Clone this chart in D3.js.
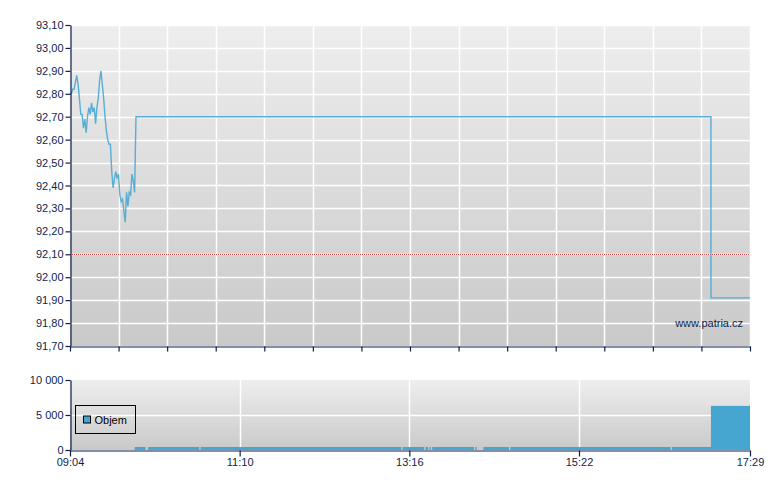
<!DOCTYPE html>
<html>
<head>
<meta charset="UTF-8" />
<title>Graf - patria.cz</title>
<script type="text/javascript" src="https://cdn.jsdelivr.net/npm/d3@7"></script>
<style>
	body { margin: 0; background: #fff; }
	svg text { font-family: "Liberation Sans", Arial, sans-serif; font-size: 11px; }
</style>
</head>
<body>
<div id="chart"></div>

<script type="text/javascript">
	// price ticks, one value per minute from 09:04, then the flat part
	var priceTimes = ["09:04","09:05","09:06","09:07","09:08","09:09","09:10","09:11","09:12","09:13",
		"09:14","09:15","09:16","09:17","09:18","09:19","09:20","09:21","09:22","09:23",
		"09:24","09:25","09:26","09:27","09:28","09:29","09:30","09:31","09:32","09:33",
		"09:34","09:35","09:36","09:37","09:38","09:39","09:40","09:41","09:42","09:43",
		"09:44","09:45","09:46","09:47","09:48","09:49","09:50","09:51","09:52","09:53",
		"17:00","17:00","17:29"];
	var priceValues = [92.80,92.80,92.82,92.82,92.85,92.88,92.84,92.78,92.71,92.71,
		92.65,92.69,92.63,92.70,92.74,92.71,92.76,92.72,92.74,92.67,
		92.74,92.78,92.86,92.90,92.84,92.78,92.70,92.64,92.60,92.58,
		92.58,92.46,92.39,92.43,92.46,92.43,92.45,92.36,92.33,92.34,
		92.29,92.24,92.37,92.31,92.37,92.36,92.45,92.42,92.37,92.70,
		92.70,91.91,91.91];
	var prevClose = 92.10;

	// volume blocks: start, end, volume
	var volStart = ["09:52","10:02","10:41","13:11","13:28","13:31","13:33","14:05","14:11","14:31","16:31","17:00"];
	var volEnd   = ["10:00","10:40","13:10","13:27","13:30","13:32","14:04","14:06","14:30","16:30","17:00","17:29"];
	var volValues = [430,430,430,430,430,430,430,430,430,430,430,6300];

	var priceTicks = [91.7,91.8,91.9,92.0,92.1,92.2,92.3,92.4,92.5,92.6,92.7,92.8,92.9,93.0,93.1];
	var volTicks = [0,5000,10000];
	var timeLabels = ["09:04","11:10","13:16","15:22","17:29"];

	var W = 780, H = 490;
	var x0 = 70, x1 = 750;
	var navy = "#0c1f4e";

	function mins(t) { var p = t.split(":"); return (+p[0]) * 60 + (+p[1]); }

	var svg = d3.select("#chart").append("svg").attr("width", W).attr("height", H);

	var defs = svg.append("defs");
	var grad = defs.append("linearGradient").attr("id", "bg").attr("x1", 0).attr("y1", 0).attr("x2", 0).attr("y2", 1);
	grad.append("stop").attr("offset", "0%").attr("stop-color", "#eeeeee");
	grad.append("stop").attr("offset", "100%").attr("stop-color", "#c9c9c9");

	var x = d3.scaleLinear().domain([mins("09:04"), mins("17:29")]).range([x0, x1]);
	var y = d3.scaleLinear().domain([91.7, 93.1]).range([346, 25]);
	var yv = d3.scaleLinear().domain([0, 10000]).range([450, 380]);

	var fmtPrice = function(d) { return d3.format(".2f")(d).replace(".", ","); };
	var fmtVol = function(d) { return d3.format(",")(d).replace(/,/g, " "); };

	// ---- upper chart ----
	var gTop = svg.append("g");
	gTop.append("rect").attr("x", x0).attr("y", y(93.1)).attr("width", x1 - x0).attr("height", y(91.7) - y(93.1))
		.attr("fill", "url(#bg)");

	var xTicksTop = d3.range(15).map(function(i) { return x.domain()[0] + i * (x.domain()[1] - x.domain()[0]) / 14; });

	gTop.selectAll("line.hg").data(priceTicks.slice(1)).enter().append("line")
		.attr("x1", x0).attr("x2", x1).attr("y1", function(d) { return Math.round(y(d)) + 0.5; })
		.attr("y2", function(d) { return Math.round(y(d)) + 0.5; })
		.attr("stroke", "#fff").attr("stroke-width", 1.5);
	gTop.selectAll("line.vg").data(xTicksTop.slice(1)).enter().append("line")
		.attr("y1", y(93.1)).attr("y2", y(91.7))
		.attr("x1", function(d) { return Math.round(x(d)) + 0.5; }).attr("x2", function(d) { return Math.round(x(d)) + 0.5; })
		.attr("stroke", "#fff").attr("stroke-width", 1.5);

	// previous close
	gTop.append("line").attr("x1", x0).attr("x2", x1)
		.attr("y1", Math.round(y(prevClose)) + 0.5).attr("y2", Math.round(y(prevClose)) + 0.5)
		.attr("stroke", "#d84a4a").attr("stroke-dasharray", "1,1").attr("stroke-width", 1);

	var priceData = priceTimes.map(function(t, i) { return { t: mins(t), v: priceValues[i] }; });
	gTop.append("path").datum(priceData)
		.attr("fill", "none").attr("stroke", "#4aa7d1").attr("stroke-width", 1.4).attr("stroke-opacity", 0.9)
		.attr("d", d3.line().x(function(d) { return x(d.t); }).y(function(d) { return y(d.v); }));

	gTop.append("text").attr("x", 743).attr("y", 327).attr("text-anchor", "end").attr("fill", navy)
		.text("www.patria.cz");

	var yAxis = d3.axisLeft(y).tickValues(priceTicks).tickFormat(fmtPrice).tickSize(5).tickSizeOuter(0);
	var gy = svg.append("g").attr("transform", "translate(" + (x0 + 0.5) + ",0)").call(yAxis);
	var xAxisTop = d3.axisBottom(x).tickValues(xTicksTop).tickFormat("").tickSize(5).tickSizeOuter(0);
	var gx = svg.append("g").attr("transform", "translate(0," + (346.5) + ")").call(xAxisTop);

	// ---- volume chart ----
	var gBot = svg.append("g");
	gBot.append("rect").attr("x", x0).attr("y", yv(10000)).attr("width", x1 - x0).attr("height", yv(0) - yv(10000))
		.attr("fill", "url(#bg)");
	gBot.append("line").attr("x1", x0).attr("x2", x1).attr("y1", Math.round(yv(5000)) + 0.5).attr("y2", Math.round(yv(5000)) + 0.5)
		.attr("stroke", "#fff").attr("stroke-width", 1.5);
	gBot.selectAll("line.vg").data(timeLabels.slice(1, 4)).enter().append("line")
		.attr("y1", yv(10000)).attr("y2", yv(0))
		.attr("x1", function(d) { return Math.round(x(mins(d))) + 0.5; }).attr("x2", function(d) { return Math.round(x(mins(d))) + 0.5; })
		.attr("stroke", "#fff").attr("stroke-width", 1.5);

	var volData = volStart.map(function(s, i) { return { s: mins(s), e: mins(volEnd[i]), v: volValues[i] }; });
	gBot.selectAll("rect.bar").data(volData).enter().append("rect")
		.attr("x", function(d) { return x(d.s); })
		.attr("width", function(d) { return Math.max(1, x(d.e) - x(d.s)); })
		.attr("y", function(d) { return yv(d.v); })
		.attr("height", function(d) { return yv(0) - yv(d.v); })
		.attr("fill", "#46a6cf");

	// legend
	var lg = gBot.append("g").attr("transform", "translate(75.5,405.5)");
	lg.append("rect").attr("width", 60).attr("height", 28).attr("fill", "none").attr("stroke", "#000");
	lg.append("rect").attr("x", 8).attr("y", 10.5).attr("width", 7).attr("height", 7).attr("fill", "#46a6cf").attr("stroke", "#000");
	lg.append("text").attr("x", 19).attr("y", 18.5).attr("fill", "#000").text("Objem");

	var yvAxis = d3.axisLeft(yv).tickValues(volTicks).tickFormat(fmtVol).tickSize(5).tickSizeOuter(0);
	var gyv = svg.append("g").attr("transform", "translate(" + (x0 + 0.5) + ",0)").call(yvAxis);
	var xvAxis = d3.axisBottom(x).tickValues(timeLabels.map(mins)).tickSize(6).tickSizeOuter(0)
		.tickFormat(function(d, i) { return timeLabels[i]; });
	var gxv = svg.append("g").attr("transform", "translate(0," + 450.5 + ")").call(xvAxis);

	[gy, gx, gyv, gxv].forEach(function(g) {
		g.selectAll("path.domain").attr("stroke", navy).attr("stroke-width", 1.2);
		g.selectAll(".tick line").attr("stroke", navy).attr("stroke-width", 1.2);
		g.selectAll(".tick text").attr("fill", navy).style("font-family", "'Liberation Sans', Arial, sans-serif").style("font-size", "11px");
	});
	gy.selectAll(".tick text").attr("x", -7);
	gyv.selectAll(".tick text").attr("x", -7);
	gxv.selectAll(".tick text").attr("y", 8);
</script>
</body>
</html>
